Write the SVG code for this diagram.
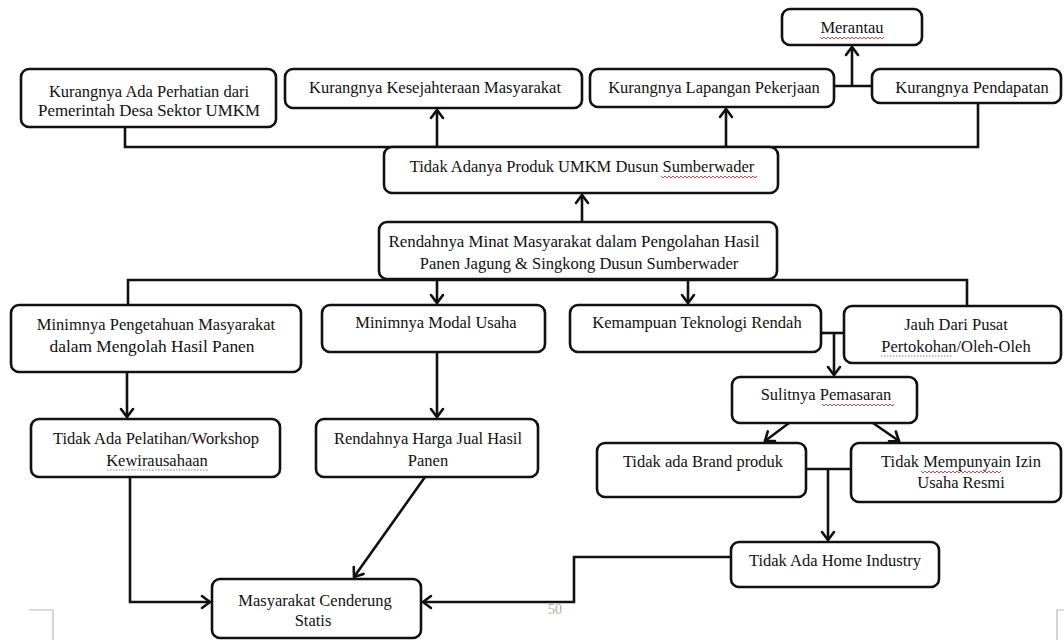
<svg xmlns="http://www.w3.org/2000/svg" width="1064" height="640" viewBox="0 0 1064 640">
<defs>
<marker id="arr" markerUnits="userSpaceOnUse" markerWidth="20" markerHeight="20" viewBox="-12 -10 14 20" refX="0" refY="0" orient="auto">
<path d="M-8,-6 L0,0 L-8,6" fill="none" stroke="#111" stroke-width="2.6" stroke-linecap="round" stroke-linejoin="miter"/>
</marker>
</defs>
<style>
.box{fill:#fff;stroke:#111;stroke-width:2.6}
.t{font-family:"Liberation Serif","Times New Roman",serif;font-size:16.5px;fill:#111;text-anchor:middle}
.c{fill:none;stroke:#111;stroke-width:2.6}
.a{fill:none;stroke:#111;stroke-width:2.6;marker-end:url(#arr)}
.sq{fill:none;stroke:#d33;stroke-width:0.9}
.dt{fill:none;stroke:#777;stroke-width:0.9;stroke-dasharray:1.5 1.5}
.pg{fill:none;stroke:#bbb;stroke-width:1.2}
</style>
<rect width="1064" height="640" fill="#fff"/>

<g id="page-marks">
<path class="pg" d="M29,610 H53 V640"/>
<path class="pg" d="M1064,610 H1057 V640"/>
<text x="555" y="614" style="font-family:'Liberation Serif',serif;font-size:14px;fill:#aaa;text-anchor:middle">50</text>
</g>

<g id="connectors">
<path class="c" d="M125,127 V147 H978 V103"/>
<path class="a" d="M437,147 V110"/>
<path class="a" d="M726,147 V109"/>
<path class="c" d="M834,86 H872"/>
<path class="a" d="M852,86 V47"/>
<path class="a" d="M582,222 V195"/>
<path class="c" d="M128,305 V280 H967 V306"/>
<path class="a" d="M437,280 V303"/>
<path class="a" d="M688,280 V303"/>
<path class="a" d="M127,372 V417"/>
<path class="a" d="M437,352 V417"/>
<path class="c" d="M821,333 H844"/>
<path class="a" d="M834,333 V375"/>
<path class="a" d="M789,423 L765,441"/>
<path class="a" d="M873,423 L899,441"/>
<path class="c" d="M806,469 H851"/>
<path class="a" d="M828,469 V540"/>
<path class="a" d="M731,557 H574 V602 H423"/>
<path class="a" d="M130,477 V602 H210"/>
<path class="a" d="M425,477 L354,577"/>
</g>

<g id="n-perhatian">
<rect class="box" x="21" y="69" width="255" height="58" rx="8"/>
<text class="t" x="149" y="97">Kurangnya Ada Perhatian dari</text>
<text class="t" x="149" y="116" textLength="222" lengthAdjust="spacingAndGlyphs">Pemerintah  Desa Sektor UMKM</text>
</g>
<g id="n-kesejahteraan">
<rect class="box" x="285" y="69" width="297" height="39" rx="8"/>
<text class="t" x="435" y="93">Kurangnya Kesejahteraan Masyarakat</text>
</g>
<g id="n-merantau">
<rect class="box" x="782" y="9" width="140" height="36" rx="8"/>
<text class="t" x="852" y="33">Merantau</text>
<path class="sq" d="M820,37 l2,2 l2,-2 l2,2 l2,-2 l2,2 l2,-2 l2,2 l2,-2 l2,2 l2,-2 l2,2 l2,-2 l2,2 l2,-2 l2,2 l2,-2 l2,2 l2,-2 l2,2 l2,-2 l2,2 l2,-2 l2,2 l2,-2 l2,2 l2,-2 l2,2 l2,-2 l2,2 l2,-2 l2,2 l2,-2"/>
</g>
<g id="n-lapangan">
<rect class="box" x="590" y="69" width="244" height="38" rx="8"/>
<text class="t" x="714" y="93">Kurangnya Lapangan Pekerjaan</text>
</g>
<g id="n-pendapatan">
<rect class="box" x="872" y="69" width="189" height="34" rx="8"/>
<text class="t" x="972" y="93">Kurangnya Pendapatan</text>
</g>
<g id="n-produk">
<rect class="box" x="384" y="147" width="394" height="46" rx="8"/>
<text class="t" x="582" y="172">Tidak Adanya Produk UMKM Dusun Sumberwader</text>
<path class="sq" d="M661,176 l2,2 l2,-2 l2,2 l2,-2 l2,2 l2,-2 l2,2 l2,-2 l2,2 l2,-2 l2,2 l2,-2 l2,2 l2,-2 l2,2 l2,-2 l2,2 l2,-2 l2,2 l2,-2 l2,2 l2,-2 l2,2 l2,-2 l2,2 l2,-2 l2,2 l2,-2 l2,2 l2,-2 l2,2 l2,-2 l2,2 l2,-2 l2,2 l2,-2 l2,2 l2,-2 l2,2 l2,-2 l2,2 l2,-2 l2,2 l2,-2 l2,2 l2,-2 l2,2 l2,-2"/>
</g>
<g id="n-rendahnya-minat">
<rect class="box" x="379" y="222" width="398" height="57" rx="8"/>
<text class="t" x="574" y="247" textLength="371" lengthAdjust="spacingAndGlyphs">Rendahnya Minat Masyarakat dalam Pengolahan Hasil</text>
<text class="t" x="579" y="269">Panen Jagung &amp; Singkong Dusun Sumberwader</text>
</g>
<g id="n-pengetahuan">
<rect class="box" x="11" y="305" width="290" height="67" rx="8"/>
<text class="t" x="156" y="330">Minimnya Pengetahuan Masyarakat</text>
<text class="t" x="152" y="352" textLength="205" lengthAdjust="spacingAndGlyphs">dalam Mengolah Hasil Panen</text>
</g>
<g id="n-modal">
<rect class="box" x="322" y="305" width="223" height="47" rx="8"/>
<text class="t" x="436" y="328">Minimnya Modal Usaha</text>
</g>
<g id="n-teknologi">
<rect class="box" x="570" y="305" width="251" height="47" rx="8"/>
<text class="t" x="697" y="328">Kemampuan Teknologi Rendah</text>
</g>
<g id="n-jauh">
<rect class="box" x="844" y="306" width="217" height="57" rx="8"/>
<text class="t" x="956" y="330">Jauh Dari Pusat</text>
<text class="t" x="956" y="352">Pertokohan/Oleh-Oleh</text>
<path class="dt" d="M881,356 H953"/>
</g>
<g id="n-pemasaran">
<rect class="box" x="732" y="377" width="185" height="46" rx="8"/>
<text class="t" x="826" y="400">Sulitnya Pemasaran</text>
<path class="sq" d="M822,404 l2,2 l2,-2 l2,2 l2,-2 l2,2 l2,-2 l2,2 l2,-2 l2,2 l2,-2 l2,2 l2,-2 l2,2 l2,-2 l2,2 l2,-2 l2,2 l2,-2 l2,2 l2,-2 l2,2 l2,-2 l2,2 l2,-2 l2,2 l2,-2 l2,2 l2,-2 l2,2 l2,-2 l2,2 l2,-2 l2,2 l2,-2 l2,2 l2,-2"/>
</g>
<g id="n-brand">
<rect class="box" x="597" y="443" width="209" height="54" rx="8"/>
<text class="t" x="703" y="467">Tidak ada Brand produk</text>
</g>
<g id="n-izin">
<rect class="box" x="851" y="443" width="210" height="59" rx="8"/>
<text class="t" x="961" y="467">Tidak Mempunyain Izin</text>
<text class="t" x="961" y="488">Usaha Resmi</text>
<path class="sq" d="M921,471 l2,2 l2,-2 l2,2 l2,-2 l2,2 l2,-2 l2,2 l2,-2 l2,2 l2,-2 l2,2 l2,-2 l2,2 l2,-2 l2,2 l2,-2 l2,2 l2,-2 l2,2 l2,-2 l2,2 l2,-2 l2,2 l2,-2 l2,2 l2,-2 l2,2 l2,-2 l2,2 l2,-2 l2,2 l2,-2 l2,2 l2,-2 l2,2 l2,-2 l2,2 l2,-2 l2,2 l2,-2"/>
</g>
<g id="n-home">
<rect class="box" x="731" y="542" width="208" height="45" rx="8"/>
<text class="t" x="835" y="566">Tidak Ada Home Industry</text>
</g>
<g id="n-pelatihan">
<rect class="box" x="31" y="419" width="249" height="58" rx="8"/>
<text class="t" x="156" y="444">Tidak Ada Pelatihan/Workshop</text>
<text class="t" x="157" y="466">Kewirausahaan</text>
<path class="dt" d="M107,470 H208"/>
</g>
<g id="n-harga">
<rect class="box" x="316" y="419" width="222" height="58" rx="8"/>
<text class="t" x="428" y="444">Rendahnya Harga Jual Hasil</text>
<text class="t" x="428" y="466">Panen</text>
</g>
<g id="n-statis">
<rect class="box" x="212" y="579" width="209" height="59" rx="8"/>
<text class="t" x="315" y="606">Masyarakat Cenderung</text>
<text class="t" x="313" y="626">Statis</text>
</g>
</svg>
